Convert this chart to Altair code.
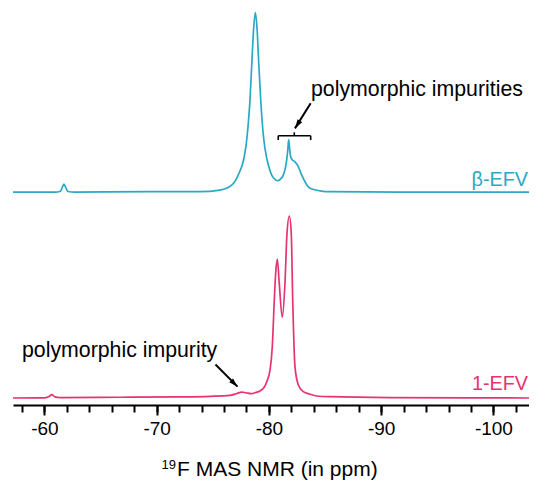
import altair as alt
import pandas as pd

FONT = "Liberation Sans, Arial, Helvetica, sans-serif"
CYAN = "#2BA8C6"
PINK = "#E8336F"

# ---- spectra (ppm, intensity in a.u., tallest peak ~100) ----
beta_ppm = [-57.2, -60.94, -61.39, -61.57, -61.74, -61.92, -62.10, -62.72, -69.40, -73.86,
            -75.64, -76.35, -76.83, -77.14, -77.42, -77.58, -77.81, -78.02, -78.16, -78.30,
            -78.49, -78.63, -78.79, -78.95, -79.08, -79.28, -79.41, -79.55, -79.77, -79.99,
            -80.25, -80.50, -80.75, -81.03, -81.28, -81.48, -81.58, -81.68, -81.76, -81.84,
            -81.94, -82.10, -82.32, -82.62, -82.81, -83.06, -83.35, -83.66, -84.55, -85.44,
            -91.68, -103.17]
beta_int = [0, 0, 0.3, 2.2, 4.4, 2.2, 0.3, 0, 0.2, 0.2,
            1.1, 2.5, 4.8, 7.8, 11.7, 14.2, 19.9, 28.9, 38.1, 49.8,
            73.3, 90.0, 99.7, 90.0, 73.3, 49.8, 38.1, 28.9, 19.9, 14.2,
            9.4, 7.3, 6.3, 7.2, 9.4, 13.9, 17.8, 23.3, 29.2, 24.4,
            19.6, 17.8, 16.8, 14.1, 11.1, 7.6, 4.2, 2.1, 0.7, 0.2,
            0, 0]

efv1_ppm = [-57.2, -60.05, -60.41, -60.65, -60.94, -61.39, -66.73, -72.08, -74.75, -76.53,
            -77.16, -77.57, -77.96, -78.40, -78.85, -79.20, -79.56, -79.80, -80.10, -80.30,
            -80.48, -80.60, -80.75, -80.92, -81.19, -81.43, -81.61, -81.82, -81.99, -82.12,
            -82.32, -82.62, -83.06, -83.66, -84.26, -85.44, -90.79, -103.17]
efv1_int = [0, 0.1, 0.8, 1.9, 0.6, 0.2, 0.4, 0.6, 0.9, 1.4,
            2.5, 3.3, 2.9, 2.4, 3.1, 3.9, 5.8, 8.9, 15.6, 28.5,
            54.4, 69.3, 77.1, 63.7, 44.8, 63.7, 91.5, 101.1, 91.5, 54.4,
            17.4, 7.2, 3.5, 2.1, 1.1, 0.7, 0.2, 0]

series_names = ["β-EFV", "1-EFV"]
series_colors = [CYAN, PINK]
series_offsets = {"β-EFV": 118.3, "1-EFV": 3.9}   # vertical stacking of the traces

major_ticks = [-60, -70, -80, -90, -100]
minor_ticks = list(range(-58, -103, -2))

# annotation texts
label_text = ["polymorphic impurities", "polymorphic impurity"]
label_ppm = [-83.75, -58.0]
label_y = [171.7, 26.5]

name_text = ["β-EFV", "1-EFV"]
name_ppm = [-103.08, -103.08]
name_y = [121.7, 8.3]

# bracket + arrow segments (ppm, y) -> (ppm2, y2)
seg_x = [-80.83, -80.83, -83.72, -82.26, -83.72, -75.24]
seg_y = [149.6, 149.6, 149.6, 149.6, 167.6, 22.5]
seg_x2 = [-83.72, -80.83, -83.72, -82.26, -82.32, -77.20]
seg_y2 = [149.6, 147.2, 147.2, 151.5, 153.7, 10.2]
seg_w = [1.6, 1.6, 1.6, 1.6, 2.0, 2.0]

head_x = [-82.54, -76.92]
head_y = [155.8, 11.9]
head_angle = [212, 135]

# ---- build tables ----
rows = []
for ppm, v in zip(beta_ppm, beta_int):
    rows.append({"ppm": ppm, "intensity": v, "series": "β-EFV", "offset": series_offsets["β-EFV"]})
for ppm, v in zip(efv1_ppm, efv1_int):
    rows.append({"ppm": ppm, "intensity": v, "series": "1-EFV", "offset": series_offsets["1-EFV"]})
spec_df = pd.DataFrame(rows)

lab_df = pd.DataFrame({"text": label_text, "ppm": label_ppm, "y": label_y})
name_df = pd.DataFrame({"text": name_text, "ppm": name_ppm, "y": name_y, "series": name_text})
seg_df = pd.DataFrame({"x": seg_x, "y": seg_y, "x2": seg_x2, "y2": seg_y2, "w": seg_w})
head_df = pd.DataFrame({"x": head_x, "y": head_y, "a": head_angle})

x_scale = alt.Scale(domain=[-103.17, -57.2], reverse=True, nice=False, zero=False)
y_scale = alt.Scale(domain=[0, 220.56], nice=False, zero=False)
color_scale = alt.Scale(domain=series_names, range=series_colors)

major_axis = alt.Axis(
    orient="bottom",
    values=major_ticks,
    title=None,
    grid=False,
    domainColor="black",
    domainWidth=2,
    tickColor="black",
    tickWidth=2,
    tickSize=10,
    labelExpr="'-' + abs(datum.value)",
    labelFont=FONT,
    labelFontSize=19,
    labelColor="black",
    labelPadding=4,
    labelFlush=False,
    labelOverlap=False,
)

minor_axis = alt.Axis(
    orient="bottom",
    values=minor_ticks,
    title=None,
    grid=False,
    domain=False,
    labels=False,
    tickColor="black",
    tickWidth=2,
    tickSize=7,
)

lines = alt.Chart(spec_df).transform_calculate(
    y="datum.intensity + datum.offset"
).mark_line(strokeWidth=1.7, interpolate="monotone").encode(
    x=alt.X("ppm:Q", scale=x_scale, axis=major_axis),
    y=alt.Y("y:Q", scale=y_scale, axis=None),
    color=alt.Color("series:N", scale=color_scale, legend=None),
)

segs = alt.Chart(seg_df).mark_rule(color="black").encode(
    x=alt.X("x:Q", scale=x_scale, axis=minor_axis),
    x2="x2:Q",
    y=alt.Y("y:Q", scale=y_scale, axis=None),
    y2="y2:Q",
    strokeWidth=alt.StrokeWidth("w:Q", scale=None),
)

heads = alt.Chart(head_df).mark_point(
    shape="M0,-1L-0.6,1L0.6,1Z", filled=True, size=81, color="black", opacity=1, strokeWidth=0
).encode(
    x=alt.X("x:Q", scale=x_scale, axis=None),
    y=alt.Y("y:Q", scale=y_scale, axis=None),
    angle=alt.Angle("a:Q", scale=None),
)

labels = alt.Chart(lab_df).mark_text(
    align="left", baseline="alphabetic", font=FONT, fontSize=21.3, color="black"
).encode(
    x=alt.X("ppm:Q", scale=x_scale, axis=None),
    y=alt.Y("y:Q", scale=y_scale, axis=None),
    text="text:N",
)

names = alt.Chart(name_df).mark_text(
    align="right", baseline="alphabetic", font=FONT, fontSize=19.8
).encode(
    x=alt.X("ppm:Q", scale=x_scale, axis=None),
    y=alt.Y("y:Q", scale=y_scale, axis=None),
    text="text:N",
    color=alt.Color("series:N", scale=color_scale, legend=None),
)

title_main = alt.Chart(pd.DataFrame({"t": ["F MAS NMR (in ppm)"]})).mark_text(
    align="left", baseline="alphabetic", font=FONT, fontSize=21, color="black"
).encode(x=alt.value(164), y=alt.value(467.5), text="t:N")

title_sup = alt.Chart(pd.DataFrame({"t": ["19"]})).mark_text(
    align="right", baseline="alphabetic", font=FONT, fontSize=13, color="black"
).encode(x=alt.value(163), y=alt.value(460.5), text="t:N")

chart = alt.layer(lines, segs, heads, labels, names, title_main, title_sup).resolve_axis(
    x="independent"
).properties(
    width=516,
    height=397,
    padding={"left": 5, "top": 0, "right": 0, "bottom": 75},
    autosize=alt.AutoSizeParams(type="none"),
    background="white",
).configure_view(strokeWidth=0)

chart.save("out.html", embed_options={"renderer": "svg", "actions": False})
